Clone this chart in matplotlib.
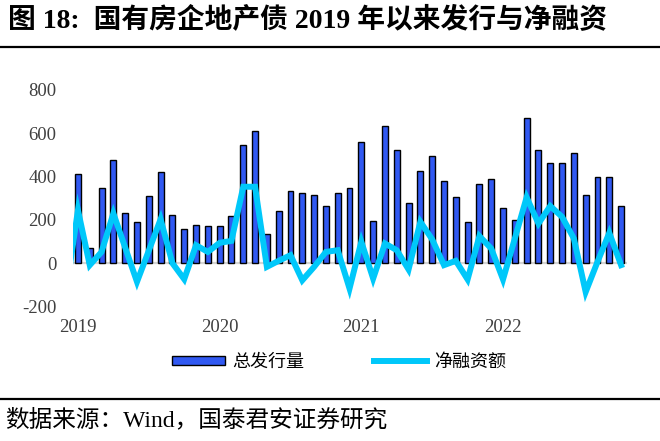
import matplotlib.pyplot as plt
from matplotlib.patches import Patch
from matplotlib.lines import Line2D

plt.rcParams['font.family'] = ['Liberation Serif', 'Noto Sans CJK SC', 'DejaVu Sans']

# monthly issuance, Jan 2019 - Nov 2022 (亿元)
issuance = [411, 72, 348, 478, 234, 190, 308, 419, 222, 160, 177, 173,
            173, 217, 544, 610, 136, 240, 334, 325, 313, 265, 325, 348,
            561, 194, 632, 522, 276, 425, 493, 379, 304, 190, 368, 391,
            254, 199, 669, 522, 462, 465, 509, 317, 396, 399, 264]

# net financing, Dec 2018 - Nov 2022 (first point only shows as the clipped lead-in)
net_financing = [-130,
                 245, -9, 52, 230, 72, -86, 58, 203, 0, -74, 83, 52,
                 94, 103, 353, 353, -17, 11, 37, -79, -17, 52, 60, -117,
                 99, -71, 91, 60, -29, 191, 110, -9, 11, -75, 125, 68,
                 -75, 114, 304, 183, 264, 214, 114, -133, 6, 140, -9]

year_labels = ['2019', '2020', '2021', '2022']
y_ticks = [-200, 0, 200, 400, 600, 800]

bar_x = list(range(len(issuance)))
line_x = list(range(-1, len(issuance)))

fig = plt.figure(figsize=(6.6, 4.41), dpi=100)
ax = fig.add_axes([0.1106, 0.305, 0.8394, 0.491])

ax.axhline(0, color='#d4d4d4', lw=1.6, zorder=1)
ax.bar(bar_x, issuance, width=0.5, color='#3159f2', edgecolor='black', linewidth=1.0, zorder=2)
ax.plot(line_x, net_financing, color='#00c8fa', lw=4.3, zorder=3, solid_joinstyle='miter')

ax.set_xlim(-0.42, 46.5)
ax.set_ylim(-200, 800)
ax.set_yticks(y_ticks)
ax.set_yticklabels([str(v) for v in y_ticks])
ax.set_xticks([0, 12, 24, 36])
ax.set_xticklabels(year_labels)
ax.tick_params(axis='y', length=0, pad=12, labelsize=13.5, labelcolor='#404040')
ax.tick_params(axis='x', length=0, pad=9, labelsize=13.5, labelcolor='#404040')
for s in ax.spines.values():
    s.set_visible(False)

handles = [Patch(facecolor='#3159f2', edgecolor='black', linewidth=1.0),
           Line2D([0], [0], color='#00c8fa', lw=4.3)]
fig.legend(handles, ['总发行量', '净融资额'], loc='center', bbox_to_anchor=(0.514, 0.179),
           ncol=2, frameon=False, handlelength=2.9, handleheight=0.45,
           handletextpad=0.4, columnspacing=3.9,
           prop={'family': ['Noto Sans CJK SC'], 'size': 13})

# title and footer
fig.text(0.012, 1 - 21 / 441, '图 18:  国有房企地产债 2019 年以来发行与净融资',
         fontsize=20, fontweight='bold', va='center', ha='left')
fig.add_artist(Line2D([0, 1], [1 - 47 / 441, 1 - 47 / 441], color='black', lw=1.6))
fig.add_artist(Line2D([0, 1], [1 - 399 / 441, 1 - 399 / 441], color='black', lw=1.6))
fig.text(0.008, 1 - 420 / 441, '数据来源：Wind，国泰君安证券研究',
         fontsize=17, va='center', ha='left')

fig.savefig('out.png', dpi=100)
